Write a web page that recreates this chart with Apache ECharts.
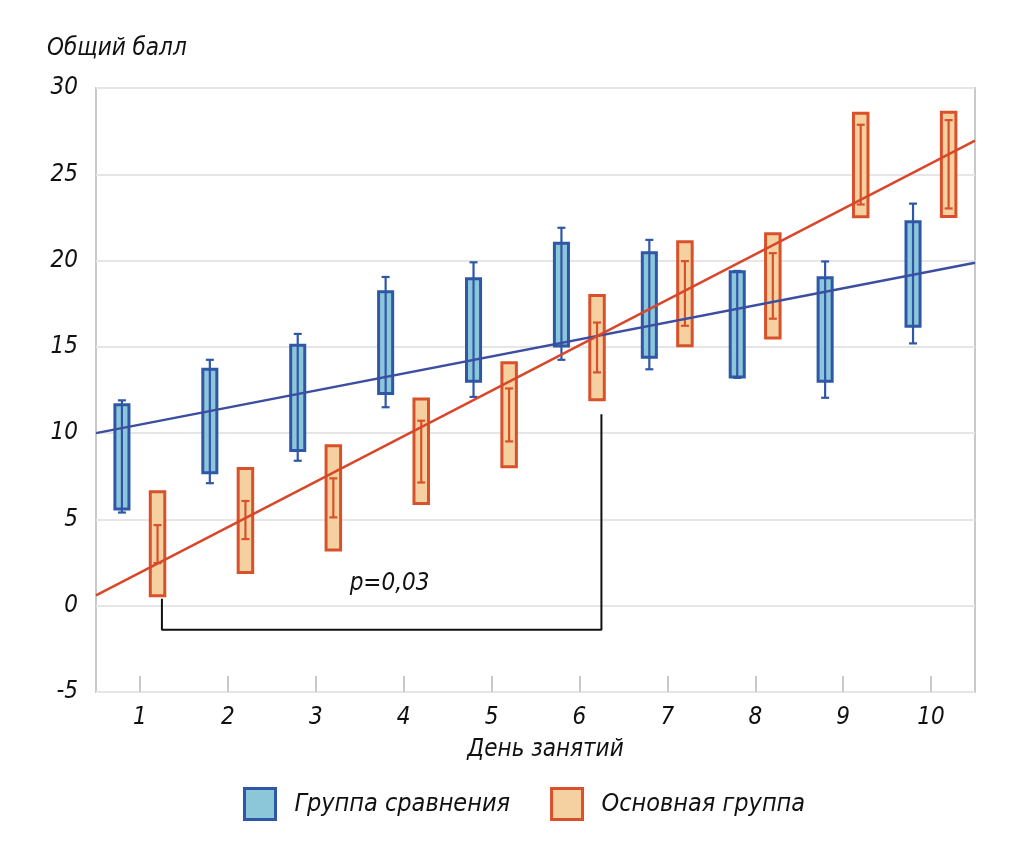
<!DOCTYPE html>
<html><head><meta charset="utf-8">
<script src="https://cdn.jsdelivr.net/npm/echarts@6/dist/echarts.min.js"></script>
<style>html,body{margin:0;padding:0;background:#fff}#c{width:1013px;height:858px}</style>
</head><body><div id="c"></div>
<script>
const days = ['1','2','3','4','5','6','7','8','9','10'];
const yTicks = [-5, 0, 5, 10, 15, 20, 25, 30];
// Группа сравнения
const cmpBoxLow  = [5.6, 7.7, 9.0, 12.3, 13.0, 15.05, 14.4, 13.25, 13.0, 16.2];
const cmpBoxHigh = [11.65, 13.7, 15.1, 18.2, 18.95, 21.0, 20.45, 19.35, 19.0, 22.25];
const cmpWhLow   = [5.4, 7.1, 8.4, 11.5, 12.1, 14.25, 13.7, 13.2, 12.05, 15.2];
const cmpWhHigh  = [11.9, 14.25, 15.75, 19.05, 19.9, 21.9, 21.2, 19.4, 19.95, 23.3];
// Основная группа
const mainBoxLow  = [0.58, 1.93, 3.23, 5.93, 8.05, 11.94, 15.06, 15.51, 22.54, 22.56];
const mainBoxHigh = [6.6, 7.95, 9.27, 11.98, 14.08, 17.98, 21.09, 21.55, 28.54, 28.6];
const mainErrLow  = [2.47, 3.86, 5.12, 7.14, 9.52, 13.52, 16.22, 16.63, 23.25, 23.02];
const mainErrHigh = [4.67, 6.07, 7.38, 10.72, 12.59, 16.41, 19.97, 20.43, 27.87, 28.14];
// Линии тренда (значения на краях области построения)
const cmpTrend  = [10.0, 19.87];
const mainTrend = [0.6, 26.95];
// Скобка и p
const bracket = [[0.25, 0.4], [0.25, -1.4], [5.25, -1.4], [5.25, 11.1]];
const pLabel = 'p=0,03';
const pPos = [2.84, 1.3];

const FONT = "'Liberation Sans Narrow','DejaVu Sans Condensed','Roboto',sans-serif";
const C = {
  blueFill: '#8cc7d9', blueStroke: '#2f57a7', blueLine: '#3c4ea1',
  orFill: '#f5d1a1', orStroke: '#d9512b', orLine: '#d8472a'
};

function mkRender(offsetFrac, widthFrac, fill, stroke) {
  return function (params, api) {
    const idx = api.value(0);
    const band = api.size([1, 0])[0];
    const pLo = api.coord([idx, api.value(1)]);
    const pHi = api.coord([idx, api.value(2)]);
    const pwLo = api.coord([idx, api.value(3)]);
    const pwHi = api.coord([idx, api.value(4)]);
    const cx = pLo[0] + offsetFrac * band;
    const w = widthFrac * band;
    const capW = 8;
    return { type: 'group', children: [
      { type: 'rect', shape: { x: cx - w / 2, y: pHi[1], width: w, height: pLo[1] - pHi[1] },
        style: { fill: fill, stroke: stroke, lineWidth: 3 } },
      { type: 'line', shape: { x1: cx, y1: pwHi[1], x2: cx, y2: pwLo[1] },
        style: { stroke: stroke, lineWidth: 2.2 } },
      { type: 'line', shape: { x1: cx - capW / 2, y1: pwHi[1], x2: cx + capW / 2, y2: pwHi[1] },
        style: { stroke: stroke, lineWidth: 2.2 } },
      { type: 'line', shape: { x1: cx - capW / 2, y1: pwLo[1], x2: cx + capW / 2, y2: pwLo[1] },
        style: { stroke: stroke, lineWidth: 2.2 } }
    ] };
  };
}

const cmpData = days.map((d, i) => [i, cmpBoxLow[i], cmpBoxHigh[i], cmpWhLow[i], cmpWhHigh[i]]);
const mainData = days.map((d, i) => [i, mainBoxLow[i], mainBoxHigh[i], mainErrLow[i], mainErrHigh[i]]);

const chart = echarts.init(document.getElementById('c'));
chart.setOption({
  animation: false,
  textStyle: { fontFamily: FONT, fontStyle: 'italic' },
  title: { text: 'Общий балл', left: 42, top: 32,
    textStyle: { fontSize: 24, fontStyle: 'italic', fontWeight: 'normal', fontFamily: FONT, color: '#111' } },
  grid: { left: 96, right: 38, top: 88, bottom: 166, show: true, borderColor: '#c9c9c9', borderWidth: 2 },
  legend: {
    bottom: 32, left: 238, itemWidth: 31, itemHeight: 31, itemGap: 40,
    textStyle: { fontSize: 25, fontStyle: 'italic', fontFamily: FONT, color: '#111', padding: [0, 0, 0, 14] },
    data: [
      { name: 'Группа сравнения', icon: 'rect', itemStyle: { color: C.blueFill, borderColor: C.blueStroke, borderWidth: 3 } },
      { name: 'Основная группа', icon: 'rect', itemStyle: { color: C.orFill, borderColor: C.orStroke, borderWidth: 3 } }
    ]
  },
  xAxis: [
    { type: 'category', data: days, boundaryGap: true,
      name: 'День занятий', nameLocation: 'middle', nameGap: 46,
      nameTextStyle: { fontSize: 24, fontStyle: 'italic', fontFamily: FONT, color: '#111', padding: [0, 0, 0, 20] },
      axisLine: { show: false, onZero: false },
      axisTick: { show: true, inside: true, length: 16, alignWithLabel: true, lineStyle: { color: '#c9c9c9', width: 2 } },
      axisLabel: { fontSize: 24, fontStyle: 'italic', fontFamily: FONT, color: '#111', margin: 14 },
      splitLine: { show: false } },
    { type: 'value', min: -0.5, max: 9.5, show: false }
  ],
  yAxis: {
    type: 'value', min: -5, max: 30, interval: 5,
    axisLine: { show: false }, axisTick: { show: false },
    axisLabel: { fontSize: 24, fontStyle: 'italic', fontFamily: FONT, color: '#111', margin: 18,
      formatter: v => yTicks.includes(v) ? String(v) : '' },
    splitLine: { lineStyle: { color: '#e6e6e6', width: 2 } }
  },
  series: [
    { name: 'Группа сравнения', type: 'custom', xAxisIndex: 0, data: cmpData,
      itemStyle: { color: C.blueFill, borderColor: C.blueStroke },
      encode: { x: 0, y: [1, 2, 3, 4] },
      renderItem: mkRender(-0.205, 0.16, C.blueFill, C.blueStroke), z: 2 },
    { name: 'Основная группа', type: 'custom', xAxisIndex: 0, data: mainData,
      itemStyle: { color: C.orFill, borderColor: C.orStroke },
      encode: { x: 0, y: [1, 2, 3, 4] },
      renderItem: mkRender(0.2, 0.165, C.orFill, C.orStroke), z: 2 },
    { name: 'trendCmp', type: 'line', xAxisIndex: 1, data: [[-0.5, cmpTrend[0]], [9.5, cmpTrend[1]]],
      symbol: 'none', lineStyle: { color: C.blueLine, width: 2.5 }, z: 5, silent: true },
    { name: 'trendMain', type: 'line', xAxisIndex: 1, data: [[-0.5, mainTrend[0]], [9.5, mainTrend[1]]],
      symbol: 'none', lineStyle: { color: C.orLine, width: 2.5 }, z: 5, silent: true },
    { name: 'bracket', type: 'line', xAxisIndex: 1, data: bracket,
      symbol: 'none', lineStyle: { color: '#111', width: 2 }, z: 4, silent: true },
    { name: 'p', type: 'custom', xAxisIndex: 1, data: [pPos], silent: true, z: 6,
      renderItem: function (params, api) {
        const p = api.coord([api.value(0), api.value(1)]);
        return { type: 'text', x: p[0], y: p[1],
          style: { text: pLabel, fill: '#111', align: 'center', verticalAlign: 'middle',
            font: 'italic 24px ' + FONT } };
      } }
  ]
});
</script></body></html>
